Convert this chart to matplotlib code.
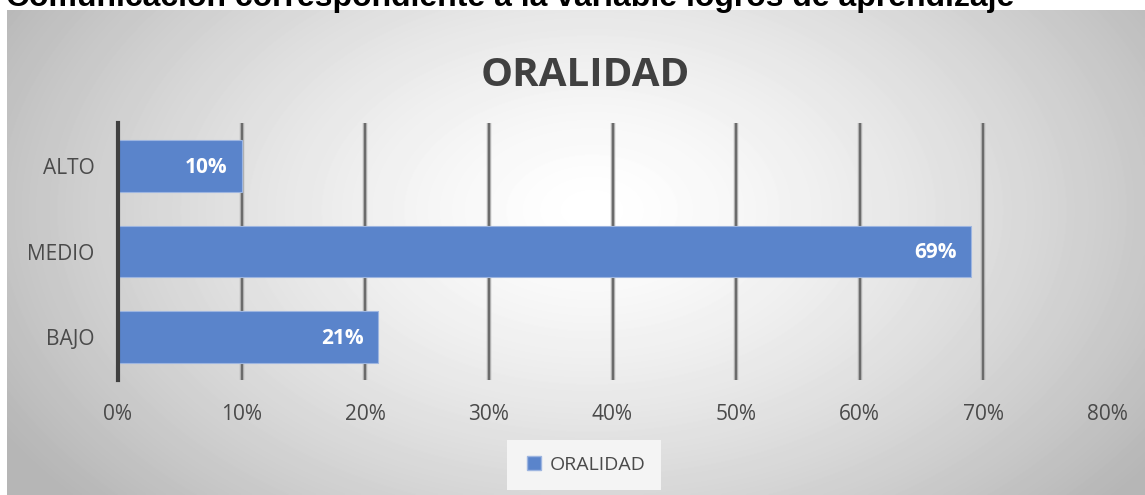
import numpy as np
import matplotlib.pyplot as plt
from matplotlib.lines import Line2D

# Datos
categorias = ['BAJO', 'MEDIO', 'ALTO']
valores = [21, 69, 10]
ticks_x = [0, 10, 20, 30, 40, 50, 60, 70, 80]
etiquetas_x = ['0%', '10%', '20%', '30%', '40%', '50%', '60%', '70%', '80%']
titulo = 'ORALIDAD'
serie = 'ORALIDAD'
leyenda_superior = 'Comunicación correspondiente a la variable logros de aprendizaje'

W, H = 1145, 495
fig = plt.figure(figsize=(W / 100, H / 100), dpi=100)
fig.patch.set_facecolor('white')

# fondo con degradado radial
bg = fig.add_axes([7 / W, 0, (W - 7) / W, (H - 10) / H], zorder=0)
yy, xx = np.mgrid[0:485, 0:1138]
r = np.sqrt(((xx - 585) / 620.0) ** 2 + ((yy - 200) / 400.0) ** 2)
shade = 1.0 - 0.25 * np.clip(r, 0, 1.1) ** 1.4
bg.imshow(shade, cmap='gray', vmin=0, vmax=1, aspect='auto',
          extent=[0, 1, 0, 1], interpolation='bilinear')
bg.axis('off')

ax = fig.add_axes([118 / W, 1 - 380 / H, (1107 - 118) / W, (380 - 123) / H], zorder=1)
ax.patch.set_alpha(0)

font = 'Open Sans'
gris = '#4a4a4a'

# lineas de cuadricula con sombra
for t in ticks_x[1:-1]:
    ax.axvline(t, color='#b0b0b0', lw=3.2, zorder=1)
    ax.axvline(t, color='#6a6a6a', lw=1.4, zorder=1.1)

pos = np.arange(len(categorias))
barras = ax.barh(pos, valores, height=0.6, color='#5a84cb',
                 edgecolor='#9db5e0', lw=0.8, zorder=2, label=serie)

for i, v in enumerate(valores):
    ax.annotate('{}%'.format(v), xy=(v, i), xytext=(-10, -1), textcoords='offset points',
                ha='right', va='center', color='white', fontsize=15,
                fontweight='bold', family=font, zorder=3)

ax.set_xlim(0, 80)
ax.set_ylim(-0.5, 2.5)
ax.set_xticks(ticks_x)
ax.set_xticklabels(etiquetas_x)
ax.set_yticks(pos)
ax.set_yticklabels(categorias)
ax.tick_params(length=0, labelsize=15, labelcolor=gris)
ax.tick_params(axis='x', pad=17)
ax.tick_params(axis='y', pad=17)
for lab in ax.get_xticklabels() + ax.get_yticklabels():
    lab.set_family(font)
for s in ['top', 'right', 'bottom']:
    ax.spines[s].set_visible(False)
ax.spines['left'].set_color('#404040')
ax.spines['left'].set_linewidth(3)
ax.spines['left'].set_zorder(4)

fig.text(585 / W, 1 - 75 / H, titulo, ha='center', va='center', fontsize=29,
         fontweight='bold', color='#404040', family=font)

fig.text(6 / W, 1 - 6 / H, leyenda_superior, ha='left', va='baseline', fontsize=23,
         fontweight='bold', color='black', family='Liberation Sans')

handle = Line2D([], [], marker='s', ls='none', markersize=10, markerfacecolor='#5a84cb',
                markeredgecolor='#9db5e0')
leg = fig.legend([handle], [serie], loc='center', bbox_to_anchor=(584 / W, 1 - 465 / H),
                 frameon=True, facecolor='#f4f4f4', edgecolor='none', fancybox=False,
                 prop={'family': font, 'size': 14}, handletextpad=0.2, handlelength=1.2,
                 borderpad=0.8, borderaxespad=0, framealpha=1)
for t in leg.get_texts():
    t.set_color(gris)

fig.savefig('out.png', dpi=100)
